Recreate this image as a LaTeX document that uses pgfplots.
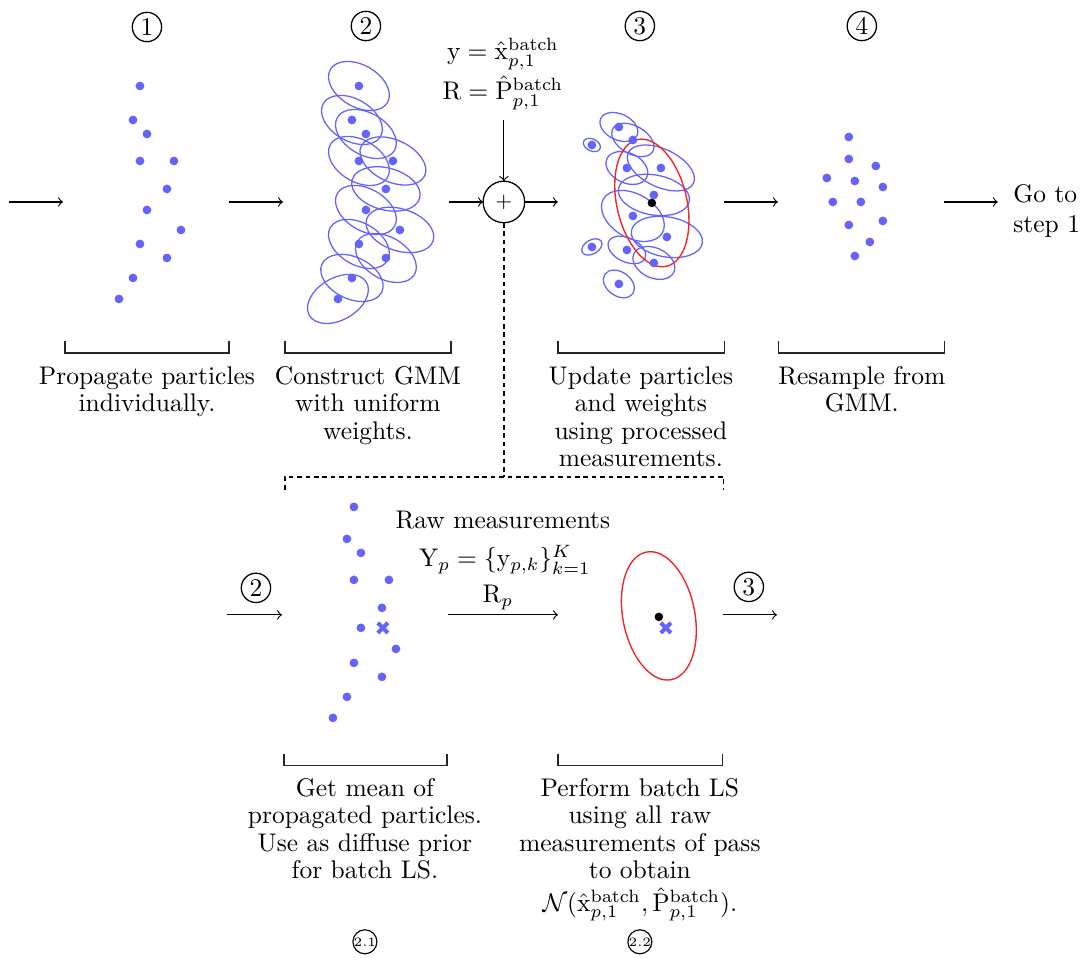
\documentclass[border=0pt]{standalone}
\usepackage{pgfplots}
\pgfplotsset{compat=1.18}
\usepackage{amsmath}
\definecolor{dotblue}{RGB}{100,100,250}
\definecolor{ellred}{RGB}{240,40,40}
\newcommand{\lbl}{\fontsize{10}{10.8}\selectfont}
\newcommand{\bel}[5]{\draw[dotblue,line width=0.5pt,rotate around={#5:(axis cs:#1,#2)}] (axis cs:#1,#2) ellipse [x radius=#3*0.392pt, y radius=#4*0.392pt];}
\newcommand{\rel}[5]{\draw[ellred,line width=0.55pt,rotate around={#5:(axis cs:#1,#2)}] (axis cs:#1,#2) ellipse [x radius=#3*0.392pt, y radius=#4*0.392pt];}
\begin{document}
\begin{tikzpicture}
\begin{axis}[x=0.392pt,y=0.392pt,xmin=0,xmax=1080,ymin=0,ymax=958,y dir=reverse,hide axis,clip=false]
\path (axis cs:0,0) rectangle (axis cs:1080,958);
% ---- step 2 ellipses
\bel{359}{86}{33}{21}{-30}
\bel{352}{120}{33}{21}{-30}
\bel{366}{134}{33}{21}{-30}
\bel{359}{161}{33}{21}{-30}
\bel{393}{161}{35}{21}{-25}
\bel{386}{189}{35}{21}{-15}
\bel{366}{210}{33}{21}{-30}
\bel{400}{230}{35}{21}{-18}
\bel{359}{244}{33}{21}{-30}
\bel{386}{258}{33}{21}{-30}
\bel{352}{278}{33}{21}{-25}
\bel{338}{299}{33}{21}{30}
% ---- step 3 ellipses
\bel{619}{127}{20}{13}{-25}
\bel{633}{140}{23}{14}{-30}
\bel{592}{145}{9}{6}{-25}
\bel{627}{168}{22}{15}{-25}
\bel{661}{168}{36}{19}{-25}
\bel{654}{195}{36}{20}{-10}
\bel{633}{216}{34}{22}{-30}
\bel{667}{237}{36}{20}{-10}
\bel{627}{250}{20}{12}{-25}
\bel{592}{247}{11}{7}{30}
\bel{654}{263}{22}{15}{-25}
\bel{619}{284}{17}{12}{-35}
\rel{652}{203}{35}{65}{13}
\rel{659}{616}{36}{65}{11}
% ---- particles
\addplot[only marks,mark=*,mark size=1.5pt,mark options={draw=dotblue,fill=dotblue}] coordinates {
(140,86) (133,120) (147,134) (140,161) (174,161) (167,189) (147,210) (181,230) (140,244) (167,258) (133,278) (119,299)};
\addplot[only marks,mark=*,mark size=1.5pt,mark options={draw=dotblue,fill=dotblue}] coordinates {
(359,86) (352,120) (366,134) (359,161) (393,161) (386,189) (366,210) (400,230) (359,244) (386,258) (352,278) (338,299)};
\addplot[only marks,mark=*,mark size=1.5pt,mark options={draw=dotblue,fill=dotblue}] coordinates {
(619,127) (633,140) (592,145) (627,168) (661,168) (654,195) (633,216) (667,237) (627,250) (592,247) (654,263) (619,284)};
\addplot[only marks,mark=*,mark size=1.5pt,mark options={draw=dotblue,fill=dotblue}] coordinates {
(849,137) (849,159) (876,166) (827,178) (855,181) (883,187) (833,202) (861,202) (849,225) (883,221) (870,242) (855,256)};
\addplot[only marks,mark=*,mark size=1.5pt,mark options={draw=dotblue,fill=dotblue}] coordinates {
(354,507) (347,539) (361,553) (354,580) (389,580) (382,608) (361,628) (396,649) (354,663) (382,677) (347,697) (333,718)};
\addplot[only marks,mark=*,mark size=1.45pt,mark options={draw=black,fill=black}] coordinates {(652,203) (659,617)};
\addplot[only marks,mark=x,mark size=2.8pt,mark options={draw=dotblue,line width=1.6pt}] coordinates {(383,628) (666,628)};
% ---- arrows top row
\draw[->,line width=0.45pt] (axis cs:9,202) -- (axis cs:63,202);
\draw[->,line width=0.45pt] (axis cs:229,202) -- (axis cs:283,202);
\draw[->,line width=0.45pt] (axis cs:449,202) -- (axis cs:483,202);
\draw[->,line width=0.45pt] (axis cs:525,202) -- (axis cs:558,202);
\draw[->,line width=0.45pt] (axis cs:724,202) -- (axis cs:778,202);
\draw[->,line width=0.45pt] (axis cs:944,202) -- (axis cs:998,202);
\draw[->,line width=0.45pt] (axis cs:504,120) -- (axis cs:504,181);
\node[circle,draw,line width=0.5pt,minimum size=16.3pt,inner sep=0pt] at (axis cs:504,202) {\fontsize{8}{8}\selectfont$+$};
% ---- arrows bottom row
\draw[->,line width=0.45pt] (axis cs:227,615) -- (axis cs:282,615);
\draw[->,line width=0.45pt] (axis cs:448,615) -- (axis cs:558,615);
\draw[->,line width=0.45pt] (axis cs:723,615) -- (axis cs:777,615);
% ---- dashed connector
\draw[dash pattern=on 1.8pt off 1.5pt,line width=0.5pt] (axis cs:504,223) -- (axis cs:504,477);
\draw[dash pattern=on 1.8pt off 1.5pt,line width=0.5pt] (axis cs:285,490) -- (axis cs:285,477) -- (axis cs:724,477) -- (axis cs:724,490);
% ---- brackets
\draw[line width=0.5pt,black!85] (axis cs:65,341) -- (axis cs:65,353) -- (axis cs:229,353) -- (axis cs:229,341);
\draw[line width=0.5pt,black!85] (axis cs:285,341) -- (axis cs:285,353) -- (axis cs:451,353) -- (axis cs:451,341);
\draw[line width=0.5pt,black!85] (axis cs:558,341) -- (axis cs:558,353) -- (axis cs:725,353) -- (axis cs:725,341);
\draw[line width=0.5pt,black!85] (axis cs:779,341) -- (axis cs:779,353) -- (axis cs:945,353) -- (axis cs:945,341);
\draw[line width=0.5pt,black!85] (axis cs:284,754) -- (axis cs:284,766) -- (axis cs:447,766) -- (axis cs:447,754);
\draw[line width=0.5pt,black!85] (axis cs:558,754) -- (axis cs:558,766) -- (axis cs:723,766) -- (axis cs:723,754);
% ---- circled step numbers
\node[circle,draw,line width=0.5pt,inner sep=0pt,minimum size=11.5pt,font=\lbl] at (axis cs:147,27) {1};
\node[circle,draw,line width=0.5pt,inner sep=0pt,minimum size=11.5pt,font=\lbl] at (axis cs:366,26) {2};
\node[circle,draw,line width=0.5pt,inner sep=0pt,minimum size=11.5pt,font=\lbl] at (axis cs:640,26) {3};
\node[circle,draw,line width=0.5pt,inner sep=0pt,minimum size=11.5pt,font=\lbl] at (axis cs:862,26) {4};
\node[circle,draw,line width=0.5pt,inner sep=0pt,minimum size=11.5pt,font=\lbl] at (axis cs:256,588) {2};
\node[circle,draw,line width=0.5pt,inner sep=0pt,minimum size=11.5pt,font=\lbl] at (axis cs:749,587) {3};
\node[circle,draw,line width=0.45pt,inner sep=0pt,minimum size=7.3pt,font=\tiny] at (axis cs:365,942) {2.1};
\node[circle,draw,line width=0.45pt,inner sep=0pt,minimum size=7.3pt,font=\tiny] at (axis cs:640,942) {2.2};
% ---- equations
\node[anchor=base,inner sep=0pt,font=\lbl] at (axis cs:503,60) {$\mathrm{y} = \hat{\mathrm{x}}_{p,1}^{\mathrm{batch}}$};
\node[anchor=base,inner sep=0pt,font=\lbl] at (axis cs:503,100) {$\mathrm{R} = \hat{\mathrm{P}}_{p,1}^{\mathrm{batch}}$};
\node[anchor=base,inner sep=0pt,font=\lbl] at (axis cs:503,529) {Raw measurements};
\node[anchor=base,inner sep=0pt,font=\lbl] at (axis cs:505,567) {$\mathrm{Y}_p = \{\mathrm{y}_{p,k}\}_{k=1}^{K}$};
\node[anchor=base,inner sep=0pt,font=\lbl] at (axis cs:498,603) {$\mathrm{R}_p$};
% ---- labels
\node[anchor=north,align=center,inner sep=0pt,font=\lbl] at (axis cs:147,366) {Propagate particles\\individually.};
\node[anchor=north,align=center,inner sep=0pt,font=\lbl] at (axis cs:368,366) {Construct GMM\\with uniform\\weights.};
\node[anchor=north,align=center,inner sep=0pt,font=\lbl] at (axis cs:641,366) {Update particles\\and weights\\using processed\\measurements.};
\node[anchor=north,align=center,inner sep=0pt,font=\lbl] at (axis cs:862,366) {Resample from\\GMM.};
\node[anchor=north west,align=left,inner sep=0pt,font=\fontsize{10}{11.8}\selectfont] at (axis cs:1013,184) {Go to\\step 1};
\node[anchor=north,align=center,inner sep=0pt,font=\lbl] at (axis cs:365,778) {Get mean of\\propagated particles.\\Use as diffuse prior\\for batch LS.};
\node[anchor=north,align=center,inner sep=0pt,font=\lbl] at (axis cs:640,778) {Perform batch LS\\using all raw\\measurements of pass\\to obtain\\[2pt]$\mathcal{N}(\hat{\mathrm{x}}_{p,1}^{\mathrm{batch}},\hat{\mathrm{P}}_{p,1}^{\mathrm{batch}})$.};
\end{axis}
\end{tikzpicture}
\end{document}
